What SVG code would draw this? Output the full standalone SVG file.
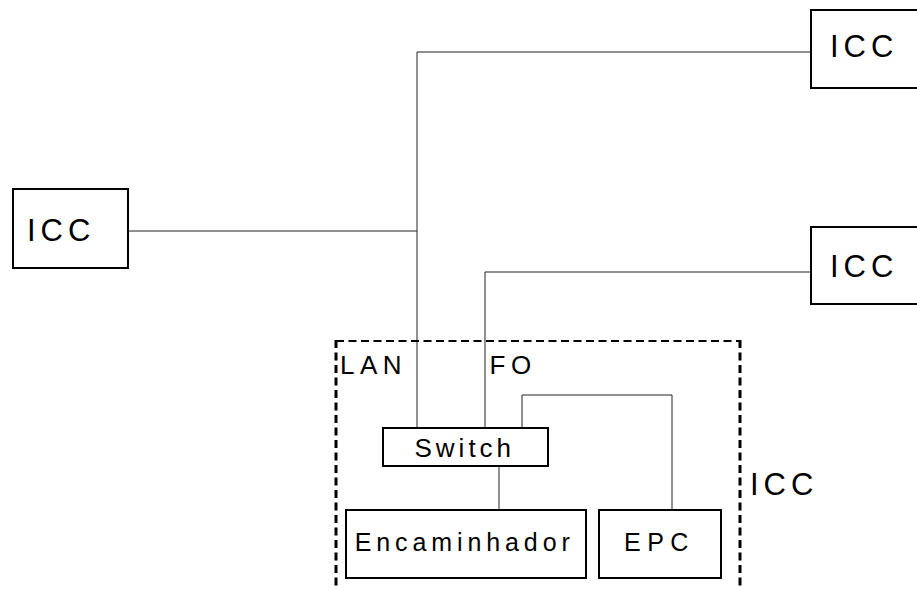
<svg xmlns="http://www.w3.org/2000/svg" width="917" height="590" viewBox="0 0 917 590">
<style>
.box{fill:#fff;stroke:#000;stroke-width:2}
.ln{fill:none;stroke:#222;stroke-width:1}
.dash{fill:none;stroke:#000;stroke-dasharray:8,4.5}
.t{font-family:"Liberation Sans",Arial,sans-serif;fill:#000}
.icc{font-size:31px;letter-spacing:5px}
.lbl{font-size:26px;letter-spacing:5.5px}
</style>
<rect width="917" height="590" fill="#fff"/>
<g id="connectors">
<polyline class="ln" points="811,52 417,52 417,428"/>
<line class="ln" x1="128" y1="231" x2="417" y2="231"/>
<polyline class="ln" points="811,272 485,272 485,428"/>
<polyline class="ln" points="522,428 522,395 672,395 672,510"/>
<line class="ln" x1="499" y1="466" x2="499" y2="510"/>
</g>
<g id="icc-group">
<line class="dash" x1="336" y1="341" x2="740" y2="341" stroke-width="2"/>
<line class="dash" x1="336" y1="340" x2="336" y2="596" stroke-width="3"/>
<line class="dash" x1="740" y1="340" x2="740" y2="596" stroke-width="3"/>
<text class="t lbl" x="340" y="374">LAN</text>
<text class="t lbl" x="489.5" y="374">FO</text>
<text class="t icc" x="750" y="495">ICC</text>
</g>
<g id="icc-top">
<rect class="box" x="811" y="10" width="120" height="78"/>
<text class="t icc" x="830" y="57">ICC</text>
</g>
<g id="icc-left">
<rect class="box" x="13" y="189" width="115" height="79"/>
<text class="t icc" x="27" y="241">ICC</text>
</g>
<g id="icc-mid">
<rect class="box" x="811" y="227" width="120" height="77"/>
<text class="t icc" x="830" y="277">ICC</text>
</g>
<g id="switch">
<rect class="box" x="383" y="428" width="165" height="38"/>
<text class="t" x="414.5" y="457" font-size="26" letter-spacing="4">Switch</text>
</g>
<g id="encaminhador">
<rect class="box" x="346" y="510" width="240" height="68"/>
<text class="t" x="354.7" y="551" font-size="25" letter-spacing="4.9">Encaminhador</text>
</g>
<g id="epc">
<rect class="box" x="599" y="510" width="122" height="68"/>
<text class="t" x="624" y="551" font-size="25" letter-spacing="6.5">EPC</text>
</g>
</svg>
